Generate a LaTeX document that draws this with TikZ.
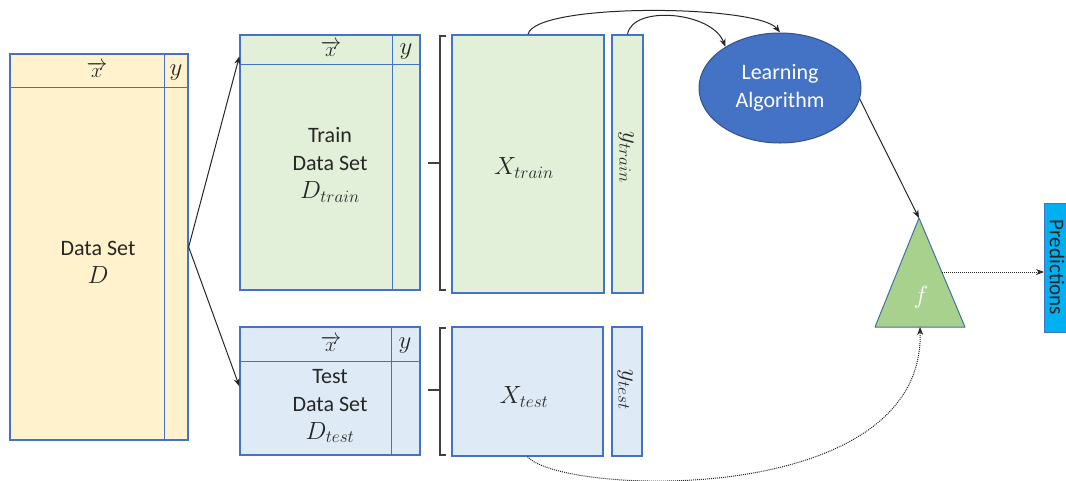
\documentclass[tikz,border=0pt]{standalone}
\usepackage{fontspec}
\setmainfont{Carlito}
\usetikzlibrary{shapes.geometric,arrows.meta}
\definecolor{setyellow}{HTML}{FFF2CC}
\definecolor{setgreen}{HTML}{E2F0D9}
\definecolor{setblue}{HTML}{DEEBF7}
\definecolor{frame}{HTML}{4472C4}
\definecolor{algoblue}{HTML}{4472C4}
\definecolor{algoedge}{HTML}{2F528F}
\definecolor{fgreen}{HTML}{A9D18E}
\definecolor{fedge}{HTML}{41719C}
\definecolor{predcyan}{HTML}{00B0F0}
\newcommand{\bigmath}[1]{{\fontsize{25}{28}\selectfont$#1$}}
\newcommand{\featvec}{$\overrightarrow{x}$}
\begin{document}
\begin{tikzpicture}[x=1pt,y=-1pt,
  font=\fontsize{22}{28}\selectfont,
  tbl/.style={draw=frame, line width=1.3pt, rectangle, inner sep=0pt},
  rule/.style={draw=frame, line width=1.3pt},
  lbl/.style={inner sep=1pt, align=center, text=black!85},
  mlbl/.style={lbl, font=\fontsize{25}{30}\selectfont},
  flow/.style={-{Stealth[length=8pt,width=6pt]}, line width=1pt, black!85},
  dots/.style={flow, densely dotted},
  brk/.style={line width=1.1pt, black!75}
]
\useasboundingbox (0,0) rectangle (1066,480);

% full data set
\node[tbl, fill=setyellow, minimum width=178pt, minimum height=386pt] (D) at (99,247) {};
\draw[rule] ([yshift=-34pt]D.north west) -- ([yshift=-34pt]D.north east);
\draw[rule] ([xshift=-24pt]D.north east) -- ([xshift=-24pt]D.south east);
\node[lbl] (Dx) at (97,70) {\featvec};
\node[mlbl] (Dy) at (176,73) {$y$};
\node[lbl] (Dtxt) at (98,262) {Data Set\\\bigmath{D}};

% train split
\node[tbl, fill=setgreen, minimum width=180pt, minimum height=255pt] (Tr) at (330,162.5) {};
\draw[rule] ([yshift=-30pt]Tr.north west) -- ([yshift=-30pt]Tr.north east);
\draw[rule] ([xshift=-28pt]Tr.north east) -- ([xshift=-28pt]Tr.south east);
\node[lbl] (Trx) at (331,49) {\featvec};
\node[mlbl] (Try) at (406,52) {$y$};
\node[lbl] (Trtxt) at (330,165) {Train\\Data Set\\\bigmath{D_{train}}};

% test split
\node[tbl, fill=setblue, minimum width=180pt, minimum height=128pt] (Te) at (330,391) {};
\draw[rule] ([yshift=-35pt]Te.north west) -- ([yshift=-35pt]Te.north east);
\draw[rule] ([xshift=-29pt]Te.north east) -- ([xshift=-29pt]Te.south east);
\node[lbl] (Tex) at (331,344) {\featvec};
\node[mlbl] (Tey) at (405,346) {$y$};
\node[lbl] (Tetxt) at (330,406) {Test\\Data Set\\\bigmath{D_{test}}};

% brackets
\draw[brk] (446,36) -- (440,36) -- (440,290) -- (446,290);
\draw[brk] (428,163) -- (440,163);
\draw[brk] (446,328) -- (440,328) -- (440,455) -- (446,455);
\draw[brk] (428,390) -- (440,390);

% features / targets
\node[tbl, fill=setgreen, minimum width=152pt, minimum height=258pt] (Xtr) at (528,164) {};
\node[mlbl] (Xtrl) at (524,168) {$X_{train}$};
\node[tbl, fill=setgreen, minimum width=31pt, minimum height=258pt] (ytr) at (627.5,164) {};
\node[mlbl, rotate=-90] (ytrl) at (626,157) {$y_{train}$};
\node[tbl, fill=setblue, minimum width=151pt, minimum height=129pt] (Xte) at (527.5,391.5) {};
\node[mlbl] (Xtel) at (524,397) {$X_{test}$};
\node[tbl, fill=setblue, minimum width=30pt, minimum height=129pt] (yte) at (627,391.5) {};
\node[mlbl, rotate=-90] (ytel) at (625,390) {$y_{test}$};

% learning algorithm
\node[ellipse, fill=algoblue, draw=algoedge, line width=1pt, minimum width=162pt,
      minimum height=110pt, inner sep=0pt, text=white, align=center] (LA) at (780,88) {Learning\\Algorithm};

% model
\coordinate (fapex) at (919,218);
\coordinate (fbl) at (875,327);
\coordinate (fbr) at (965,327);
\coordinate (fin) at (920,327);
\coordinate (fout) at (942,272);
\draw[fill=fgreen, draw=fedge, line width=1pt, line join=round] (fapex) -- (fbr) -- (fbl) -- cycle;
\node[text=white, font=\fontsize{30}{34}\selectfont] (flbl) at (921,297) {$f$};

% predictions
\node[rectangle, fill=predcyan, draw=frame, line width=1pt, minimum width=40pt,
      minimum height=129pt, anchor=west] (P) at (1044,267.5) {};
\node[rotate=-90, font=\fontsize{21}{24}\selectfont, text=black!85] (Pl) at (1057,267.5) {Predictions};

% connectors
\draw[flow] (D.east) -- ([yshift=-22pt]Tr.north west);
\draw[flow] (D.east) -- ([yshift=-60pt]Te.north west);
\draw[flow] (Xtr.north) .. controls +(7,-32) and +(-22,-28) .. (LA.north);
\draw[flow] (ytr.north) .. controls +(5,-30) and +(-13,-35) .. (LA.143);
\draw[flow] (LA.-8) -- (fapex);
\draw[dots] (fout) -- (fout -| P.west);
\draw[dots] (Xte.south) .. controls (560,495) and (925,510) .. (fin);
\end{tikzpicture}
\end{document}
